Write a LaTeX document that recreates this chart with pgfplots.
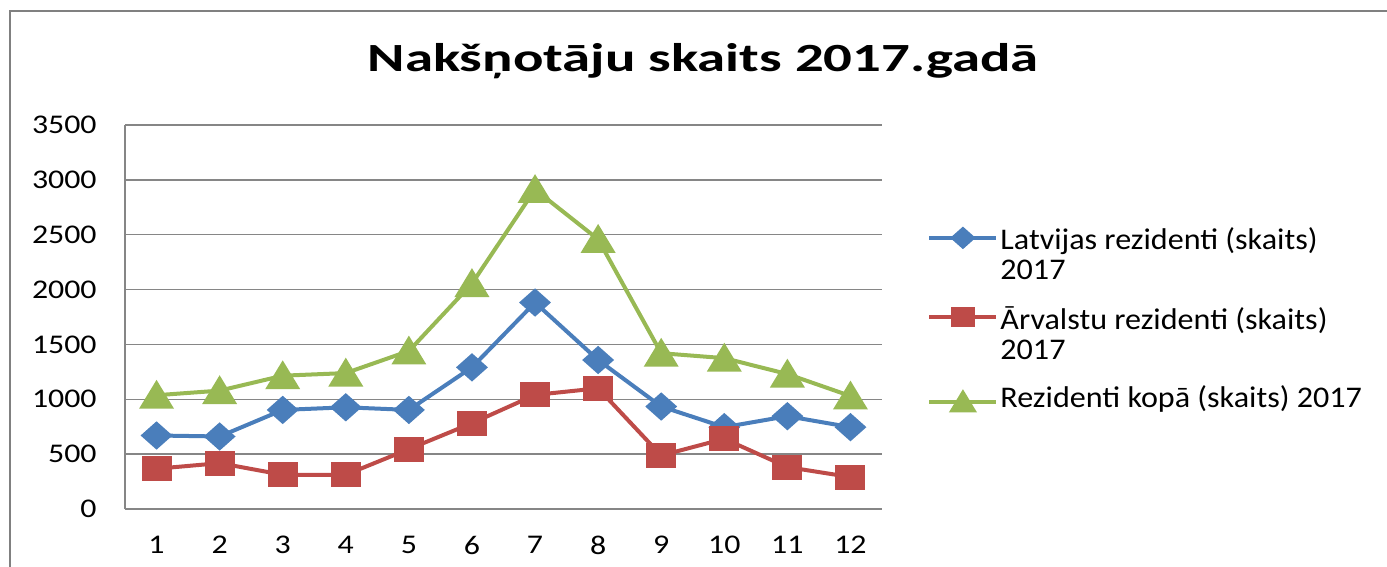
\documentclass[border=0pt]{standalone}
\usepackage{pgfplots}
\pgfplotsset{compat=1.18}
\usepackage{fontspec}
\setmainfont{Carlito}
\newfontfamily\tickfont{Carlito}[FakeStretch=1.18]
\newfontfamily\legfont{Carlito}[FakeStretch=1.07]
\newfontfamily\titlefont{Carlito}[FakeStretch=1.42]
\definecolor{cblue}{RGB}{74,126,187}
\definecolor{cred}{RGB}{190,75,72}
\definecolor{cgreen}{RGB}{152,185,84}
\definecolor{gridgray}{RGB}{134,134,134}
\definecolor{framegray}{RGB}{128,128,128}
\newcommand{\legtext}[1]{\fontsize{15}{15}\selectfont\renewcommand{\arraystretch}{1}\begin{tabular}[t]{@{}l@{}}#1\end{tabular}}
\begin{document}
\begin{tikzpicture}
\path[use as bounding box] (0pt,0pt) rectangle (693.5pt,-283.5pt);
\draw[framegray, line width=1pt] (5pt,-290pt) -- (5pt,-5.5pt) -- (700pt,-5.5pt);
\node[anchor=base, font=\titlefont\bfseries\fontsize{20}{24}\selectfont] at (351.5pt,-36pt) {Nakšņotāju skaits 2017.gadā};
\begin{axis}[
  scale only axis, width=378.5pt, height=192pt,
  at={(62.5pt,-254.5pt)}, anchor=south west,
  xmin=0.5, xmax=12.5, ymin=0, ymax=3500,
  xtick={1,...,12}, ytick={0,500,...,3500},
  axis lines=left, axis line style={-},
  x axis line style={draw=none},
  y axis line style={draw=gridgray, line width=0.75pt},
  ymajorgrids, grid style={gridgray, line width=0.75pt},
  major tick length=0pt,
  /pgf/number format/assume math mode=true,
  /pgf/number format/1000 sep={},
  ticklabel style={font=\tickfont\fontsize{13.5}{16}\selectfont, text=black, inner sep=0pt},
  yticklabel style={anchor=east, xshift=-14pt},
  xticklabel style={anchor=north, yshift=-13.5pt},
  clip=false,
  legend style={draw=none, fill=none, at={(axis description cs:1.0595,0.733)}, anchor=north west,
    inner sep=0pt, row sep=26.8pt, column sep=1pt,
    font=\legfont\fontsize{15}{15}\selectfont,
    cells={anchor=base west},
    nodes={inner sep=0pt}},
  legend image code/.code={\draw[#1, mark repeat=2, mark phase=2] plot coordinates {(0pt,0pt) (16.75pt,0pt) (33.5pt,0pt)};},
]
\addplot[cblue, line width=2pt, mark=diamond*, mark size=5.75pt, mark options={xscale=1.5, fill=cblue, draw=cblue}, forget plot]
 coordinates {(1,670) (2,661) (3,903) (4,927) (5,903) (6,1291) (7,1882) (8,1358) (9,934) (10,746) (11,846) (12,746)};
\addplot[cred, line width=2pt, mark=square*, mark size=5.25pt, mark options={xscale=1.24, fill=cred, draw=cred}, forget plot]
 coordinates {(1,367) (2,418) (3,312) (4,312) (5,546) (6,782) (7,1040) (8,1100) (9,488) (10,640) (11,382) (12,291)};
\addplot[cgreen, line width=2pt, mark=triangle*, mark size=7.67pt, mark options={xscale=1.05, yshift=-1.9pt, fill=cgreen, draw=cgreen}, forget plot]
 coordinates {(1,1037) (2,1079) (3,1215) (4,1239) (5,1440) (6,2055) (7,2912) (8,2458) (9,1420) (10,1375) (11,1230) (12,1030)};
\addlegendimage{cblue, line width=2pt, yshift=6pt, mark=diamond*, mark size=4.3pt, mark options={xscale=1.5, fill=cblue, draw=cblue}}
\addlegendentry{\legtext{Latvijas rezidenti (skaits)\\2017}}
\addlegendimage{cred, line width=2pt, yshift=6pt, mark=square*, mark size=4pt, mark options={xscale=1.24, fill=cred, draw=cred}}
\addlegendentry{\legtext{Ārvalstu rezidenti (skaits)\\2017}}
\addlegendimage{cgreen, line width=2pt, yshift=3pt, mark=triangle*, mark size=5.8pt, mark options={xscale=1.05, yshift=-1.4pt, fill=cgreen, draw=cgreen}}
\addlegendentry{\legtext{Rezidenti kopā (skaits) 2017}}
\end{axis}
\end{tikzpicture}
\end{document}
